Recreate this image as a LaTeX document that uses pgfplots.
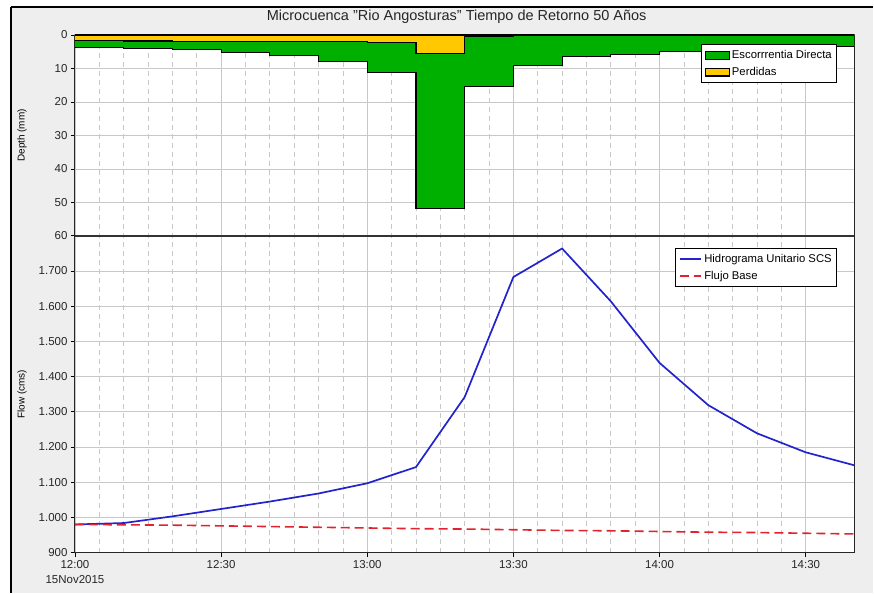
\documentclass[border=0pt]{standalone}
\usepackage{pgfplots}
\pgfplotsset{compat=1.18}
\usepackage{fontspec}
\setmainfont{Liberation Sans}
\definecolor{hmsgreen}{RGB}{0,176,0}
\definecolor{hmsyellow}{RGB}{255,200,0}
\definecolor{hmsblue}{RGB}{35,35,205}
\definecolor{hmsred}{RGB}{225,35,45}
\definecolor{bggray}{RGB}{238,238,238}
\definecolor{gridgray}{RGB}{200,200,200}

\pgfplotsset{
  hms/.style={
    scale only axis, width=780bp,
    xmin=0, xmax=160,
    axis background/.style={fill=white},
    xmajorgrids, ymajorgrids, xminorgrids,
    major grid style={gridgray, line width=0.7bp},
    minor grid style={gridgray, dash pattern=on 5bp off 4bp, line width=0.7bp},
    xtick={0,30,...,150},
    minor x tick num=5,
    tick align=outside,
    major tick length=4bp, minor tick length=0pt,
    tick style={black, line width=0.7bp},
    tick pos=left,
    axis line style={black!85, line width=0.9bp},
    /pgf/number format/assume math mode=true,
    ticklabel style={font=\fontsize{11.5bp}{15bp}\selectfont, text=black!85},
    label style={font=\fontsize{9bp}{11bp}\selectfont, text=black!85},
    every axis y label/.style={at={(axis description cs:-0.068,0.5)}, rotate=90, anchor=center},
    legend style={draw=black, line width=1.1bp, fill=white, font=\fontsize{11.3bp}{13bp}\selectfont,
      inner xsep=3bp, inner ysep=4bp, row sep=3bp, legend cell align=left},
  }
}

\begin{document}
\begin{tikzpicture}
\fill[white] (0,0) rectangle (874bp,-593bp);
\fill[bggray] (11bp,-7bp) rectangle (874bp,-593bp);
\draw[black, line width=1.2bp] (874bp,-7bp) -- (11bp,-7bp);
\draw[black, line width=2.2bp] (11bp,-7bp) -- (11bp,-593bp);

\node[font=\fontsize{14.5bp}{16bp}\selectfont, text=black!85] at (457bp,-17bp)
  {Microcuenca "Rio Angosturas" Tiempo de Retorno 50 Años};

% ---------------- top panel: depth ----------------
\begin{axis}[hms, at={(75bp,-35bp)}, anchor=north west, height=201bp,
  ymin=0, ymax=60, y dir=reverse, ytick={0,10,...,60},
  xticklabels={}, xtick style={draw=none},
  ylabel={Depth (mm)},
  legend style={at={(axis description cs:0.978,0.955)}, anchor=north east},
  legend image code/.code={\draw[#1] (0bp,-4bp) rectangle (24bp,4bp);}]
\addplot[fill=hmsgreen, draw=black, line width=1.1bp, const plot] coordinates {
  (0,3.7) (10,4.1) (20,4.4) (30,5.2) (40,6.1) (50,7.8) (60,11.2) (70,51.7)
  (80,15.5) (90,9.0) (100,6.5) (110,5.7) (120,5.0) (130,4.5) (140,4.0) (150,3.5) (160,3.5)
} \closedcycle;
\addlegendentry{Escorrrentia Directa}
\addplot[fill=hmsyellow, draw=black, line width=1.1bp, const plot] coordinates {
  (0,1.7) (10,1.8) (20,2.0) (30,2.0) (40,2.0) (50,2.0) (60,2.3) (70,5.6)
  (80,0.5) (90,0.2) (100,0.1) (110,0.1) (120,0.1) (130,0.1) (140,0.1) (150,0.1) (160,0.1)
} \closedcycle;
\addlegendentry{Perdidas}
\end{axis}

% ---------------- bottom panel: flow ----------------
\begin{axis}[hms, at={(75bp,-236bp)}, anchor=north west, height=317bp,
  ymin=900, ymax=1800, ytick={900,1000,...,1700},
  scaled y ticks=false,
  yticklabel style={/pgf/number format/.cd, 1000 sep={.}},
  xticklabels={{12:00\\15Nov2015},12:30,13:00,13:30,14:00,14:30},
  xticklabel style={align=center},
  ylabel={Flow (cms)},
  legend style={at={(axis description cs:0.978,0.962)}, anchor=north east},
  legend image code/.code={\draw[#1] (0bp,0bp) -- (22bp,0bp);}]
\addplot[hmsblue, line width=1.7bp] coordinates {
  (0,980) (10,984) (20,1003) (30,1024) (40,1045) (50,1068) (60,1097) (70,1143)
  (80,1342) (90,1683) (100,1764) (110,1614) (120,1439) (130,1319) (140,1239) (150,1185) (160,1148)
};
\addlegendentry{Hidrograma Unitario SCS}
\addplot[hmsred, line width=1.6bp, dash pattern=on 9bp off 5bp] coordinates {
  (0,980) (10,979) (20,978) (30,976) (40,974) (50,972) (60,970) (70,968)
  (80,967) (90,965) (100,963) (110,962) (120,960) (130,958) (140,957) (150,955) (160,953)
};
\addlegendentry{Flujo Base}
\end{axis}

\draw[black!80, line width=2bp] (75bp,-236bp) -- (855bp,-236bp);
\end{tikzpicture}
\end{document}
